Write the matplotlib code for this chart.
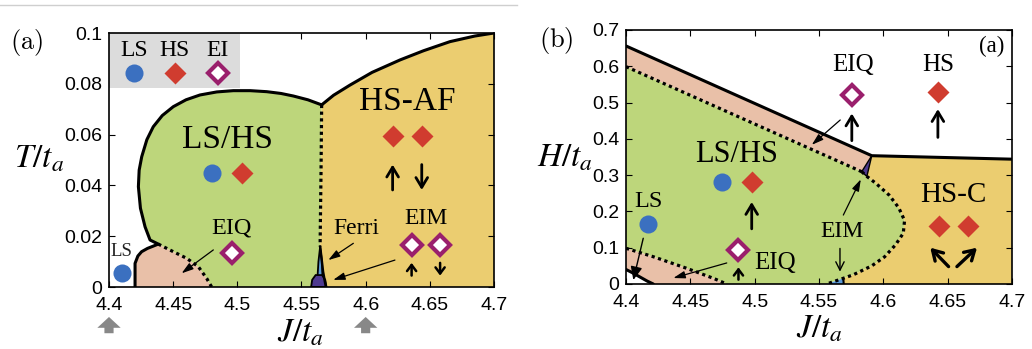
import matplotlib
matplotlib.use('Agg')
import matplotlib.pyplot as plt
from matplotlib.patches import Polygon, Rectangle
from matplotlib.lines import Line2D

plt.rcParams['font.family'] = ['Liberation Serif', 'DejaVu Serif']
plt.rcParams['mathtext.fontset'] = 'stix'

# ---------------- axes / ticks ----------------
J_ticks = [4.4, 4.45, 4.5, 4.55, 4.6, 4.65, 4.7]
J_tick_labels = ['4.4', '4.45', '4.5', '4.55', '4.6', '4.65', '4.7']
T_ticks = [0, 0.02, 0.04, 0.06, 0.08, 0.1]
T_tick_labels = ['0', '0.02', '0.04', '0.06', '0.08', '0.1']
H_ticks = [0, 0.1, 0.2, 0.3, 0.4, 0.5, 0.6, 0.7]
H_tick_labels = ['0', '0.1', '0.2', '0.3', '0.4', '0.5', '0.6', '0.7']

# ---------------- panel (a): J-T phase boundaries ----------------
a_lshs_J = [4.4384, 4.4320, 4.4281, 4.4245, 4.4229, 4.4235, 4.4255, 4.4295, 4.4345, 4.4415,
            4.4501, 4.4600, 4.4709, 4.4840, 4.4969, 4.5100, 4.5229, 4.5340, 4.5436, 4.5550, 4.5657]
a_lshs_T = [0.0169, 0.0185, 0.0237, 0.0310, 0.0395, 0.0460, 0.0513, 0.0580, 0.0631, 0.0675,
            0.0710, 0.0737, 0.0756, 0.0768, 0.0773, 0.0773, 0.0769, 0.0762, 0.0752, 0.0737, 0.0717]
a_af_J = [4.5657, 4.5750, 4.5878, 4.6050, 4.6268, 4.6450, 4.6657, 4.6850, 4.7000]
a_af_T = [0.0717, 0.0755, 0.0795, 0.0845, 0.0894, 0.0930, 0.0966, 0.0988, 0.1000]
a_dot_J = [4.5657, 4.5652, 4.5647, 4.5645]
a_dot_T = [0.0717, 0.0450, 0.0250, 0.0160]
a_eiq_left_J = [4.4203, 4.4203, 4.4225, 4.4254, 4.4300, 4.4345, 4.4384]
a_eiq_left_T = [0.0000, 0.0093, 0.0122, 0.0139, 0.0152, 0.0161, 0.0169]
a_eiq_dot_J = [4.4384, 4.4501, 4.4605, 4.4696, 4.4761, 4.4800]
a_eiq_dot_T = [0.0169, 0.0139, 0.0113, 0.0080, 0.0034, 0.0000]
a_ferri_J = [4.5645, 4.5660, 4.5663, 4.5625, 4.5632]
a_ferri_T = [0.0158, 0.0100, 0.0042, 0.0042, 0.0100]
a_eim_J = [4.5575, 4.5583, 4.5610, 4.5660, 4.5685, 4.5695]
a_eim_T = [0.0000, 0.0028, 0.0047, 0.0047, 0.0028, 0.0000]
a_edge_J = [4.5645, 4.5668, 4.5690]
a_edge_T = [0.0160, 0.0060, 0.0000]

# ---------------- panel (b): J-H phase boundaries ----------------
b_top_J = [4.4, 4.591, 4.7]
b_top_H = [0.656, 0.3536, 0.344]
b_dot_up_J = [4.4, 4.5832]
b_dot_up_H = [0.599, 0.3095]
b_curve_J = [4.5832, 4.5872, 4.5940, 4.6045, 4.6120, 4.6165, 4.6155, 4.6095, 4.6010,
             4.5910, 4.5767, 4.5689]
b_curve_H = [0.3095, 0.2965, 0.2780, 0.2450, 0.2100, 0.1750, 0.1400, 0.1080, 0.0750,
             0.0500, 0.0255, 0.0157]
b_curve_end_J = [4.5689, 4.5611, 4.5560]
b_curve_end_H = [0.0157, 0.0063, 0.0000]
b_dot_low_J = [4.4000, 4.4212, 4.4472, 4.4679, 4.4783]
b_dot_low_H = [0.0984, 0.0752, 0.0432, 0.0157, 0.0000]
b_ls_edge_J = [4.4000, 4.4050, 4.4110, 4.4165, 4.4212]
b_ls_edge_H = [0.0400, 0.0310, 0.0190, 0.0080, 0.0000]
b_tri_J = [4.5832, 4.5910, 4.5872]
b_tri_H = [0.3095, 0.3536, 0.2965]
b_blue_J = [4.5560, 4.5689, 4.5692]
b_blue_H = [0.0000, 0.0157, 0.0000]

# ---------------- markers ----------------
a_legend_J = [4.4195, 4.4514, 4.4847]
a_legend_T = [0.0844, 0.0844, 0.0844]
a_ls_J, a_ls_T = [4.4099, 4.4805], [0.0054, 0.0447]
a_hs_J, a_hs_T = [4.5039, 4.6210, 4.6437], [0.0447, 0.0594, 0.0594]
a_ei_J, a_ei_T = [4.4961, 4.6358, 4.6580], [0.0133, 0.0165, 0.0165]
b_ls_J, b_ls_H = [4.4174, 4.4749], [0.165, 0.2807]
b_hs_J, b_hs_H = [4.4977, 4.6424, 4.6430, 4.6655], [0.2807, 0.530, 0.1587, 0.1587]
b_ei_J, b_ei_H = [4.5755, 4.4874], [0.521, 0.0945]

GREEN = '#bdd67b'
YELLOW = '#ebcd70'
PINK = '#e9c0a8'
BLUE = '#3b70c0'
RED = '#d03c2f'
MAG = '#9a1f6c'
PURPLE = '#4e3a8f'
LBLUE = '#5c9ad8'

fig = plt.figure(figsize=(10.32, 3.49), dpi=100)
axA = fig.add_axes([109 / 1032, 62 / 349, 385 / 1032, 254 / 349])
axB = fig.add_axes([626 / 1032, 65 / 349, 386 / 1032, 254 / 349])

fig.add_artist(Line2D([0, 517 / 1032], [1 - 5 / 349, 1 - 5 / 349], color='#cfcfcf', lw=1))


def style(ax, yt, ytl, ylim):
    ax.set_xlim(4.4, 4.7)
    ax.set_ylim(*ylim)
    ax.set_xticks(J_ticks)
    ax.set_xticklabels(J_tick_labels, fontfamily='Liberation Sans', fontsize=14)
    ax.set_yticks(yt)
    ax.set_yticklabels(ytl, fontfamily='Liberation Sans', fontsize=14)
    ax.tick_params(direction='in', length=4, width=0.8, top=True, right=True)
    ax.tick_params(axis='x', pad=7)
    ax.tick_params(axis='y', pad=5)
    for s in ax.spines.values():
        s.set_linewidth(1.2)
        s.set_zorder(10)


def poly(ax, pts, fc, ec='none', lw=0, z=1):
    ax.add_patch(Polygon(pts, closed=True, fc=fc, ec=ec, lw=lw, zorder=z))


def solid(ax, x, y, lw=2.2):
    ax.plot(x, y, color='k', lw=lw, solid_capstyle='round', zorder=4)


def dotted(ax, x, y):
    ax.plot(x, y, color='k', lw=2.3, ls=(0, (1, 1.1)), zorder=4)


def arrow(ax, xy, xyt, lw=2.0, hl=0.5, hw=0.3, ms=14):
    ax.annotate('', xy=xy, xytext=xyt,
                arrowprops=dict(arrowstyle=f'->,head_length={hl},head_width={hw}', lw=lw,
                                color='k', shrinkA=0, shrinkB=0, mutation_scale=ms),
                zorder=6)


def pointer(ax, xy, xyt):
    ax.annotate('', xy=xy, xytext=xyt,
                arrowprops=dict(arrowstyle='-|>,head_length=0.7,head_width=0.22', lw=0.9,
                                color='k', shrinkA=0, shrinkB=0, mutation_scale=10),
                zorder=6)


def circles(ax, x, y):
    ax.plot(x, y, 'o', ms=13, color=BLUE, mec='none', zorder=7, ls='none')


def diamonds(ax, x, y):
    ax.plot(x, y, 'D', ms=11, color=RED, mec='none', zorder=7, ls='none')


def eis(ax, x, y):
    ax.plot(x, y, 'D', ms=10, mfc='white', mec=MAG, mew=3, zorder=7, ls='none')


# ================= panel (a) =================
ax = axA
style(ax, T_ticks, T_tick_labels, (0, 0.1))
pink = list(zip(a_eiq_left_J, a_eiq_left_T)) + list(zip(a_eiq_dot_J, a_eiq_dot_T))
poly(ax, pink, PINK)
green = (list(zip(a_eiq_dot_J[::-1], a_eiq_dot_T[::-1])) + list(zip(a_lshs_J, a_lshs_T))
         + list(zip(a_dot_J, a_dot_T)) + [(a_dot_J[-1], 0)])
poly(ax, green, GREEN)
yellow = (list(zip(a_af_J, a_af_T)) + [(4.7, 0), (a_dot_J[-1], 0)]
          + list(zip(a_dot_J[::-1], a_dot_T[::-1])))
poly(ax, yellow, YELLOW)
poly(ax, list(zip(a_ferri_J, a_ferri_T)), LBLUE, ec='k', lw=1.3, z=3)
poly(ax, list(zip(a_eim_J, a_eim_T)), PURPLE, ec='k', lw=1.3, z=3)
solid(ax, a_edge_J, a_edge_T, lw=1.8)
solid(ax, a_eiq_left_J + a_lshs_J, a_eiq_left_T + a_lshs_T)
solid(ax, a_af_J, a_af_T)
dotted(ax, a_dot_J, a_dot_T)
dotted(ax, a_eiq_dot_J, a_eiq_dot_T)

ax.add_patch(Rectangle((4.4, 0.0783), 0.102, 0.0217, fc='#dcdcdc', ec='none', zorder=2))
for lab, j in zip(['LS', 'HS', 'EI'], a_legend_J):
    ax.text(j, 0.0933, lab, fontsize=17, ha='center', va='center', zorder=8)
circles(ax, a_legend_J[:1], a_legend_T[:1])
diamonds(ax, a_legend_J[1:2], a_legend_T[1:2])
eis(ax, a_legend_J[2:], a_legend_T[2:])

circles(ax, a_ls_J, a_ls_T)
diamonds(ax, a_hs_J, a_hs_T)
eis(ax, a_ei_J, a_ei_T)

ax.text(4.4925, 0.0579, 'LS/HS', fontsize=24, ha='center', va='center', zorder=8)
ax.text(4.6326, 0.0730, 'HS-AF', fontsize=24, ha='center', va='center', zorder=8)
ax.text(4.4956, 0.0231, 'EIQ', fontsize=17.5, ha='center', va='center', zorder=8)
ax.text(4.5930, 0.0231, 'Ferri', fontsize=17, ha='center', va='center', zorder=8)
ax.text(4.6470, 0.0270, 'EIM', fontsize=17, ha='center', va='center', zorder=8)
ax.text(4.4099, 0.0139, 'LS', fontsize=13.5, ha='center', va='center', color='#222222', zorder=8)

arrow(ax, (4.6210, 0.0482), (4.6210, 0.0382))
arrow(ax, (4.6437, 0.0382), (4.6437, 0.0482))
arrow(ax, (4.6358, 0.0095), (4.6358, 0.0045), lw=1.8, hl=0.4, hw=0.3, ms=11)
arrow(ax, (4.6580, 0.0045), (4.6580, 0.0095), lw=1.8, hl=0.4, hw=0.3, ms=11)
pointer(ax, (4.4566, 0.0054), (4.4813, 0.0146))
pointer(ax, (4.5709, 0.0106), (4.5904, 0.0172))
pointer(ax, (4.5747, 0.0028), (4.6228, 0.0106))

for jx in [4.4, 4.6]:
    ax.annotate('', xy=(jx, -0.118), xytext=(jx, -0.182), xycoords=('data', 'axes fraction'),
                textcoords=('data', 'axes fraction'), annotation_clip=False,
                arrowprops=dict(arrowstyle='simple,head_width=1.4,head_length=0.65,tail_width=0.55',
                                color='#888888', shrinkA=0, shrinkB=0, lw=0,
                                mutation_scale=12))

# ================= panel (b) =================
ax = axB
style(ax, H_ticks, H_tick_labels, (0, 0.7))
pink_up = (list(zip(b_top_J[:2], b_top_H[:2])) + [(b_dot_up_J[-1], b_dot_up_H[-1])]
           + list(zip(b_dot_up_J[::-1], b_dot_up_H[::-1])))
poly(ax, pink_up, PINK)
green_b = (list(zip(b_dot_up_J, b_dot_up_H)) + list(zip(b_curve_J[1:], b_curve_H[1:]))
           + list(zip(b_curve_end_J[1:], b_curve_end_H[1:]))
           + list(zip(b_dot_low_J[::-1], b_dot_low_H[::-1])))
poly(ax, green_b, GREEN)
yellow_b = ([(b_top_J[1], b_top_H[1]), (b_top_J[2], b_top_H[2]), (4.7, 0), (b_blue_J[2], 0)]
            + list(zip(b_curve_J[:0:-1], b_curve_H[:0:-1])))
poly(ax, yellow_b, YELLOW)
pink_low = (list(zip(b_dot_low_J, b_dot_low_H)) + list(zip(b_ls_edge_J[::-1], b_ls_edge_H[::-1])))
poly(ax, pink_low, PINK)
poly(ax, list(zip(b_tri_J, b_tri_H)), PURPLE, ec='k', lw=1.0, z=3)
poly(ax, list(zip(b_blue_J, b_blue_H)), LBLUE, ec='none', z=3)
solid(ax, b_top_J, b_top_H)
solid(ax, b_ls_edge_J, b_ls_edge_H)
solid(ax, [b_blue_J[1], b_blue_J[2]], [b_blue_H[1], b_blue_H[2]], lw=1.5)
dotted(ax, b_dot_up_J, b_dot_up_H)
dotted(ax, b_curve_J + b_curve_end_J[1:], b_curve_H + b_curve_end_H[1:])
dotted(ax, b_dot_low_J, b_dot_low_H)

circles(ax, b_ls_J, b_ls_H)
diamonds(ax, b_hs_J, b_hs_H)
eis(ax, b_ei_J, b_ei_H)

ax.text(4.4861, 0.356, 'LS/HS', fontsize=22, ha='center', va='center', zorder=8)
ax.text(4.6541, 0.2459, 'HS-C', fontsize=21, ha='center', va='center', zorder=8)
ax.text(4.5768, 0.6037, 'EIQ', fontsize=18, ha='center', va='center', zorder=8)
ax.text(4.6424, 0.604, 'HS', fontsize=18, ha='center', va='center', zorder=8)
ax.text(4.4174, 0.2275, 'LS', fontsize=17.5, ha='center', va='center', zorder=8)
ax.text(4.5676, 0.144, 'EIM', fontsize=17, ha='center', va='center', zorder=8)
ax.text(4.5159, 0.0578, 'EIQ', fontsize=18, ha='center', va='center', zorder=8)
ax.text(4.6844, 0.654, '(a)', fontsize=16.5, ha='center', va='center', zorder=8)

arrow(ax, (4.5755, 0.470), (4.5755, 0.395))
arrow(ax, (4.6424, 0.482), (4.6424, 0.404))
arrow(ax, (4.4977, 0.226), (4.4977, 0.152))
arrow(ax, (4.4874, 0.046), (4.4874, 0.012), lw=1.8, hl=0.4, hw=0.3, ms=11)
arrow(ax, (4.6365, 0.100), (4.6507, 0.048), lw=2.4)
arrow(ax, (4.6728, 0.100), (4.6572, 0.048), lw=2.4)
ax.annotate('', xy=(4.5663, 0.034), xytext=(4.5663, 0.098),
            arrowprops=dict(arrowstyle='->,head_length=0.6,head_width=0.3', lw=1.0, color='k',
                            shrinkA=0, shrinkB=0, mutation_scale=10), zorder=6)
pointer(ax, (4.5444, 0.3835), (4.5665, 0.452))
pointer(ax, (4.5825, 0.2885), (4.5689, 0.190))
pointer(ax, (4.4368, 0.0165), (4.4783, 0.058))
ax.annotate('', xy=(4.4057, 0.011), xytext=(4.4134, 0.126),
            arrowprops=dict(arrowstyle='-|>,head_length=0.8,head_width=0.35', lw=1.0, color='k',
                            shrinkA=0, shrinkB=0, mutation_scale=10), zorder=6)

# ================= labels =================
fig.text(27 / 1032, 1 - 42 / 349, r'$\mathrm{(a)}$', math_fontfamily='cm', fontsize=19,
         ha='center', va='center')
fig.text(556 / 1032, 1 - 41 / 349, r'$\mathrm{(b)}$', math_fontfamily='cm', fontsize=19,
         ha='center', va='center')
fig.text(14 / 1032, 1 - 168 / 349, r'$T/t_a$', fontsize=24, ha='left', va='baseline')
fig.text(537 / 1032, 1 - 167 / 349, r'$H/t_a$', fontsize=24, ha='left', va='baseline')
fig.text(277 / 1032, 1 - 341 / 349, r'$J/t_a$', fontsize=24, ha='left', va='baseline')
fig.text(796 / 1032, 1 - 338 / 349, r'$J/t_a$', fontsize=24, ha='left', va='baseline')

fig.savefig('out.png', dpi=100)
